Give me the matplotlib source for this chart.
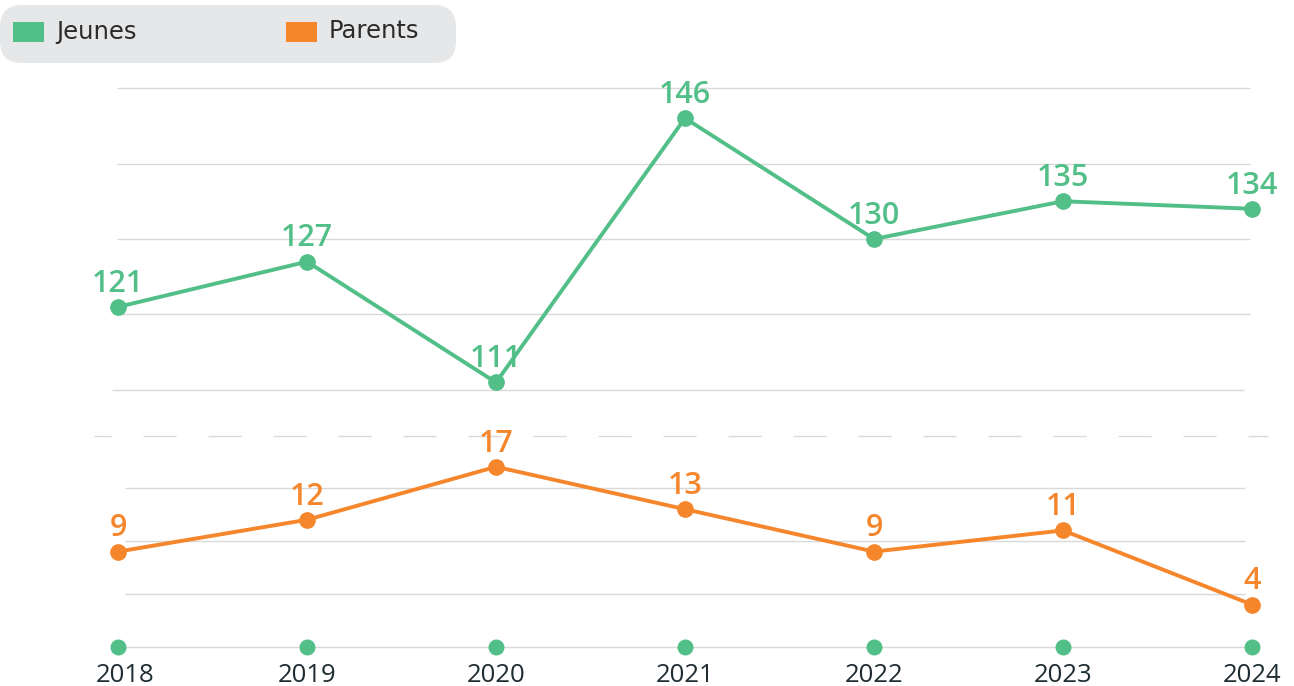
import matplotlib
matplotlib.use("Agg")
import matplotlib.pyplot as plt
import matplotlib.transforms as mtransforms
from matplotlib.patches import FancyBboxPatch, Rectangle
from matplotlib.lines import Line2D

plt.rcParams['font.family'] = ['Open Sans', 'DejaVu Sans']
plt.rcParams['lines.scale_dashes'] = False

# Data
years = [2018, 2019, 2020, 2021, 2022, 2023, 2024]
jeunes = [121, 127, 111, 146, 130, 135, 134]
parents = [9, 12, 17, 13, 9, 11, 4]
series_names = ["Jeunes", "Parents"]
upper_grid = [110, 120, 130, 140, 150]
lower_grid = [5, 10, 15]

GREEN = "#52bf88"
ORANGE = "#f5862b"
GRID = "#d9d9d9"
TEXT = "#1f2d33"

W, H = 1294, 686
fig = plt.figure(figsize=(W / 100, H / 100), dpi=100)


def px_rect(left, top, right, bottom):
    return [left / W, (H - bottom) / H, (right - left) / W, (bottom - top) / H]


x_lo = 2018 - 58 / 189
x_hi = 2018 + 1172 / 189

LABEL_KW = dict(textcoords="offset points", ha="center", va="baseline",
                fontsize=22, fontweight="semibold", zorder=4)

# Upper panel: Jeunes
ax1 = fig.add_axes(px_rect(60, 80, 1290, 436))
ax1.set_xlim(x_lo, x_hi)
ax1.set_ylim(110 - 46 / 7.55, 110 + 310 / 7.55)
ax1.axis("off")
for i, g in enumerate(upper_grid):
    if i == 0:
        ax1.hlines(g, 2018 - 6 / 189, 2024 - 8 / 189, color=GRID, lw=1.0, zorder=1)
    else:
        ax1.hlines(g, 2018 - 1 / 189, 2024 - 2 / 189, color=GRID, lw=1.0, zorder=1)
ax1.plot(years, jeunes, color=GREEN, lw=2.8, marker="o", ms=11, zorder=3,
         solid_capstyle="round")
for x, v in zip(years, jeunes):
    ax1.annotate(str(v), (x, v), xytext=(0, 11), color=GREEN, **LABEL_KW)

# Lower panel: Parents
ax2 = fig.add_axes(px_rect(60, 436, 1290, 660))
ax2.set_xlim(x_lo, x_hi)
ax2.set_ylim(-13 / 10.6, 211 / 10.6)
for s in ax2.spines.values():
    s.set_visible(False)
ax2.set_yticks([])
ax2.set_xticks(years)
ax2.set_xticklabels([str(y) for y in years], fontsize=18.5, color=TEXT)
ax2.tick_params(axis="x", length=0, pad=2)
# keep the first year label clear of the left edge
first = ax2.get_xticklabels()[0]
first.set_transform(first.get_transform() +
                    mtransforms.ScaledTranslation(7.5 / 100, 0, fig.dpi_scale_trans))
for g in lower_grid:
    ax2.hlines(g, 2018 + 7 / 189, 2024 - 7 / 189, color=GRID, lw=1.0, zorder=1)
ax2.hlines(0, 2018, 2024, color=GRID, lw=1.0, zorder=1)
ax2.plot(years, [0] * len(years), linestyle="none", marker="o", ms=10.5,
         color=GREEN, zorder=3)
ax2.plot(years, parents, color=ORANGE, lw=2.8, marker="o", ms=11, zorder=3,
         solid_capstyle="round")
for x, v in zip(years, parents):
    ax2.annotate(str(v), (x, v), xytext=(0, 11), color=ORANGE, **LABEL_KW)

# Dashed separator between the two panels
sep = Line2D([2018 - 24 / 189, 2018 + 1150 / 189], [211 / 10.6, 211 / 10.6],
             color=GRID, lw=1.0, transform=ax2.transData, clip_on=False,
             linestyle=(11.5, (23.8, 23.0)))
ax2.add_line(sep)

# Legend box
legend_bg = FancyBboxPatch((0 / W, (H - 63) / H), 456 / W, 58 / H,
                           boxstyle="round,pad=0,rounding_size=0.017",
                           transform=fig.transFigure, facecolor="#e6e7e8",
                           edgecolor="none", mutation_aspect=W / H)
fig.patches.append(legend_bg)
for name, col, x0 in zip(series_names, [GREEN, ORANGE], [13, 286]):
    fig.patches.append(Rectangle((x0 / W, (H - 42) / H), 31 / W, 20 / H,
                                 transform=fig.transFigure, facecolor=col,
                                 edgecolor="none"))
    fig.text((x0 + 43) / W, (H - 31.5) / H, name, fontsize=17.5,
             family="DejaVu Sans", color="#2b2b2b", va="center", ha="left")

fig.savefig("out.png", dpi=100)
